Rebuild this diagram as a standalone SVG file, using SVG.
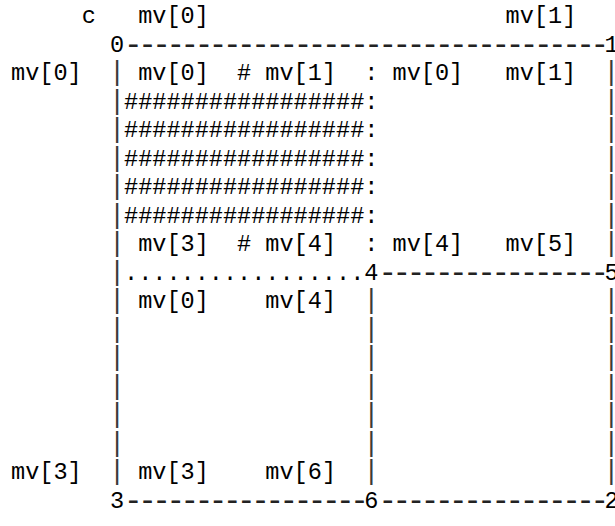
<svg xmlns="http://www.w3.org/2000/svg" width="615" height="526" viewBox="0 0 615 526" xml:space="preserve">
  <style>
    /* monospaced grid: column width 14.132px, row pitch 28.5px */
    .t { font-family: "Liberation Mono", "Courier New", monospace; font-size: 23.55px; fill: #000; white-space: pre; }
    /* vertical edges: taller bars so the stacked glyphs read as one line */
    .bar { font-family: "Liberation Mono", "Courier New", monospace; font-size: 27px; fill: #3a3a3a; white-space: pre; }
    /* horizontal edges: longer dashes kept on the same 14.132px advance */
    .dash { font-family: "Liberation Mono", "Courier New", monospace; font-size: 31px; letter-spacing: -4.47px; fill: #222; white-space: pre; }
  </style>
  <rect x="0" y="0" width="615" height="526" fill="#fff"/>

  <!-- edges of the mesh, drawn with dashes and bars -->
  <g id="connectors">
    <text class="dash" x="124.06" y="53.6">----------------------------------</text>
    <text class="dash" x="378.43" y="281.6">----------------</text>
    <text class="dash" x="124.06" y="509.6">-----------------</text>
    <text class="dash" x="378.43" y="509.6">----------------</text>
    <!-- left edge 0-3 -->
    <text class="bar"><tspan x="108.89" y="80">|</tspan><tspan x="108.89" y="108.5">|</tspan><tspan x="108.89" y="137">|</tspan><tspan x="108.89" y="165.5">|</tspan><tspan x="108.89" y="194">|</tspan><tspan x="108.89" y="222.5">|</tspan><tspan x="108.89" y="251">|</tspan><tspan x="108.89" y="279.5">|</tspan><tspan x="108.89" y="308">|</tspan><tspan x="108.89" y="336.5">|</tspan><tspan x="108.89" y="365">|</tspan><tspan x="108.89" y="393.5">|</tspan><tspan x="108.89" y="422">|</tspan><tspan x="108.89" y="450.5">|</tspan><tspan x="108.89" y="479">|</tspan></text>
    <!-- right edge 1-5-2 -->
    <text class="bar"><tspan x="603.2" y="80">|</tspan><tspan x="603.2" y="108.5">|</tspan><tspan x="603.2" y="137">|</tspan><tspan x="603.2" y="165.5">|</tspan><tspan x="603.2" y="194">|</tspan><tspan x="603.2" y="222.5">|</tspan><tspan x="603.2" y="251">|</tspan><tspan x="603.2" y="308">|</tspan><tspan x="603.2" y="336.5">|</tspan><tspan x="603.2" y="365">|</tspan><tspan x="603.2" y="393.5">|</tspan><tspan x="603.2" y="422">|</tspan><tspan x="603.2" y="450.5">|</tspan><tspan x="603.2" y="479">|</tspan></text>
    <!-- inner edge 4-6 -->
    <text class="bar"><tspan x="363.27" y="308">|</tspan><tspan x="363.27" y="336.5">|</tspan><tspan x="363.27" y="365">|</tspan><tspan x="363.27" y="393.5">|</tspan><tspan x="363.27" y="422">|</tspan><tspan x="363.27" y="450.5">|</tspan><tspan x="363.27" y="479">|</tspan></text>
  </g>

  <!-- vertices -->
  <g id="node-0"><text class="t" x="109.92" y="51.5">0</text></g>
  <g id="node-1"><text class="t" x="604.54" y="51.5">1</text></g>
  <g id="node-4"><text class="t" x="364.30" y="279.5">4</text></g>
  <g id="node-5"><text class="t" x="604.54" y="279.5">5</text></g>
  <g id="node-3"><text class="t" x="109.92" y="507.5">3</text></g>
  <g id="node-6"><text class="t" x="364.30" y="507.5">6</text></g>
  <g id="node-2"><text class="t" x="604.54" y="507.5">2</text></g>

  <!-- column headers -->
  <g id="header">
    <text class="t" x="81.66" y="23">c</text>
    <text class="t" x="138.19" y="23">mv[0]</text>
    <text class="t" x="505.62" y="23">mv[1]</text>
  </g>

  <!-- row headers -->
  <g id="row-labels">
    <text class="t" x="11" y="80">mv[0]</text>
    <text class="t" x="11" y="479">mv[3]</text>
  </g>

  <!-- upper cell 0-1-5-4 with its merged block -->
  <g id="cell-upper">
    <text class="t" x="138.19" y="80">mv[0]  # mv[1]  : mv[0]   mv[1]</text>
    <text class="t" x="124.06" y="108.5">#################:</text>
    <text class="t" x="124.06" y="137">#################:</text>
    <text class="t" x="124.06" y="165.5">#################:</text>
    <text class="t" x="124.06" y="194">#################:</text>
    <text class="t" x="124.06" y="222.5">#################:</text>
    <text class="t" x="138.19" y="251">mv[3]  # mv[4]  : mv[4]   mv[5]</text>
    <text class="t" x="124.06" y="279.5">.................</text>
  </g>

  <!-- lower-left cell 4-6-3 -->
  <g id="cell-lower">
    <text class="t" x="138.19" y="308">mv[0]    mv[4]</text>
    <text class="t" x="138.19" y="479">mv[3]    mv[6]</text>
  </g>
</svg>
